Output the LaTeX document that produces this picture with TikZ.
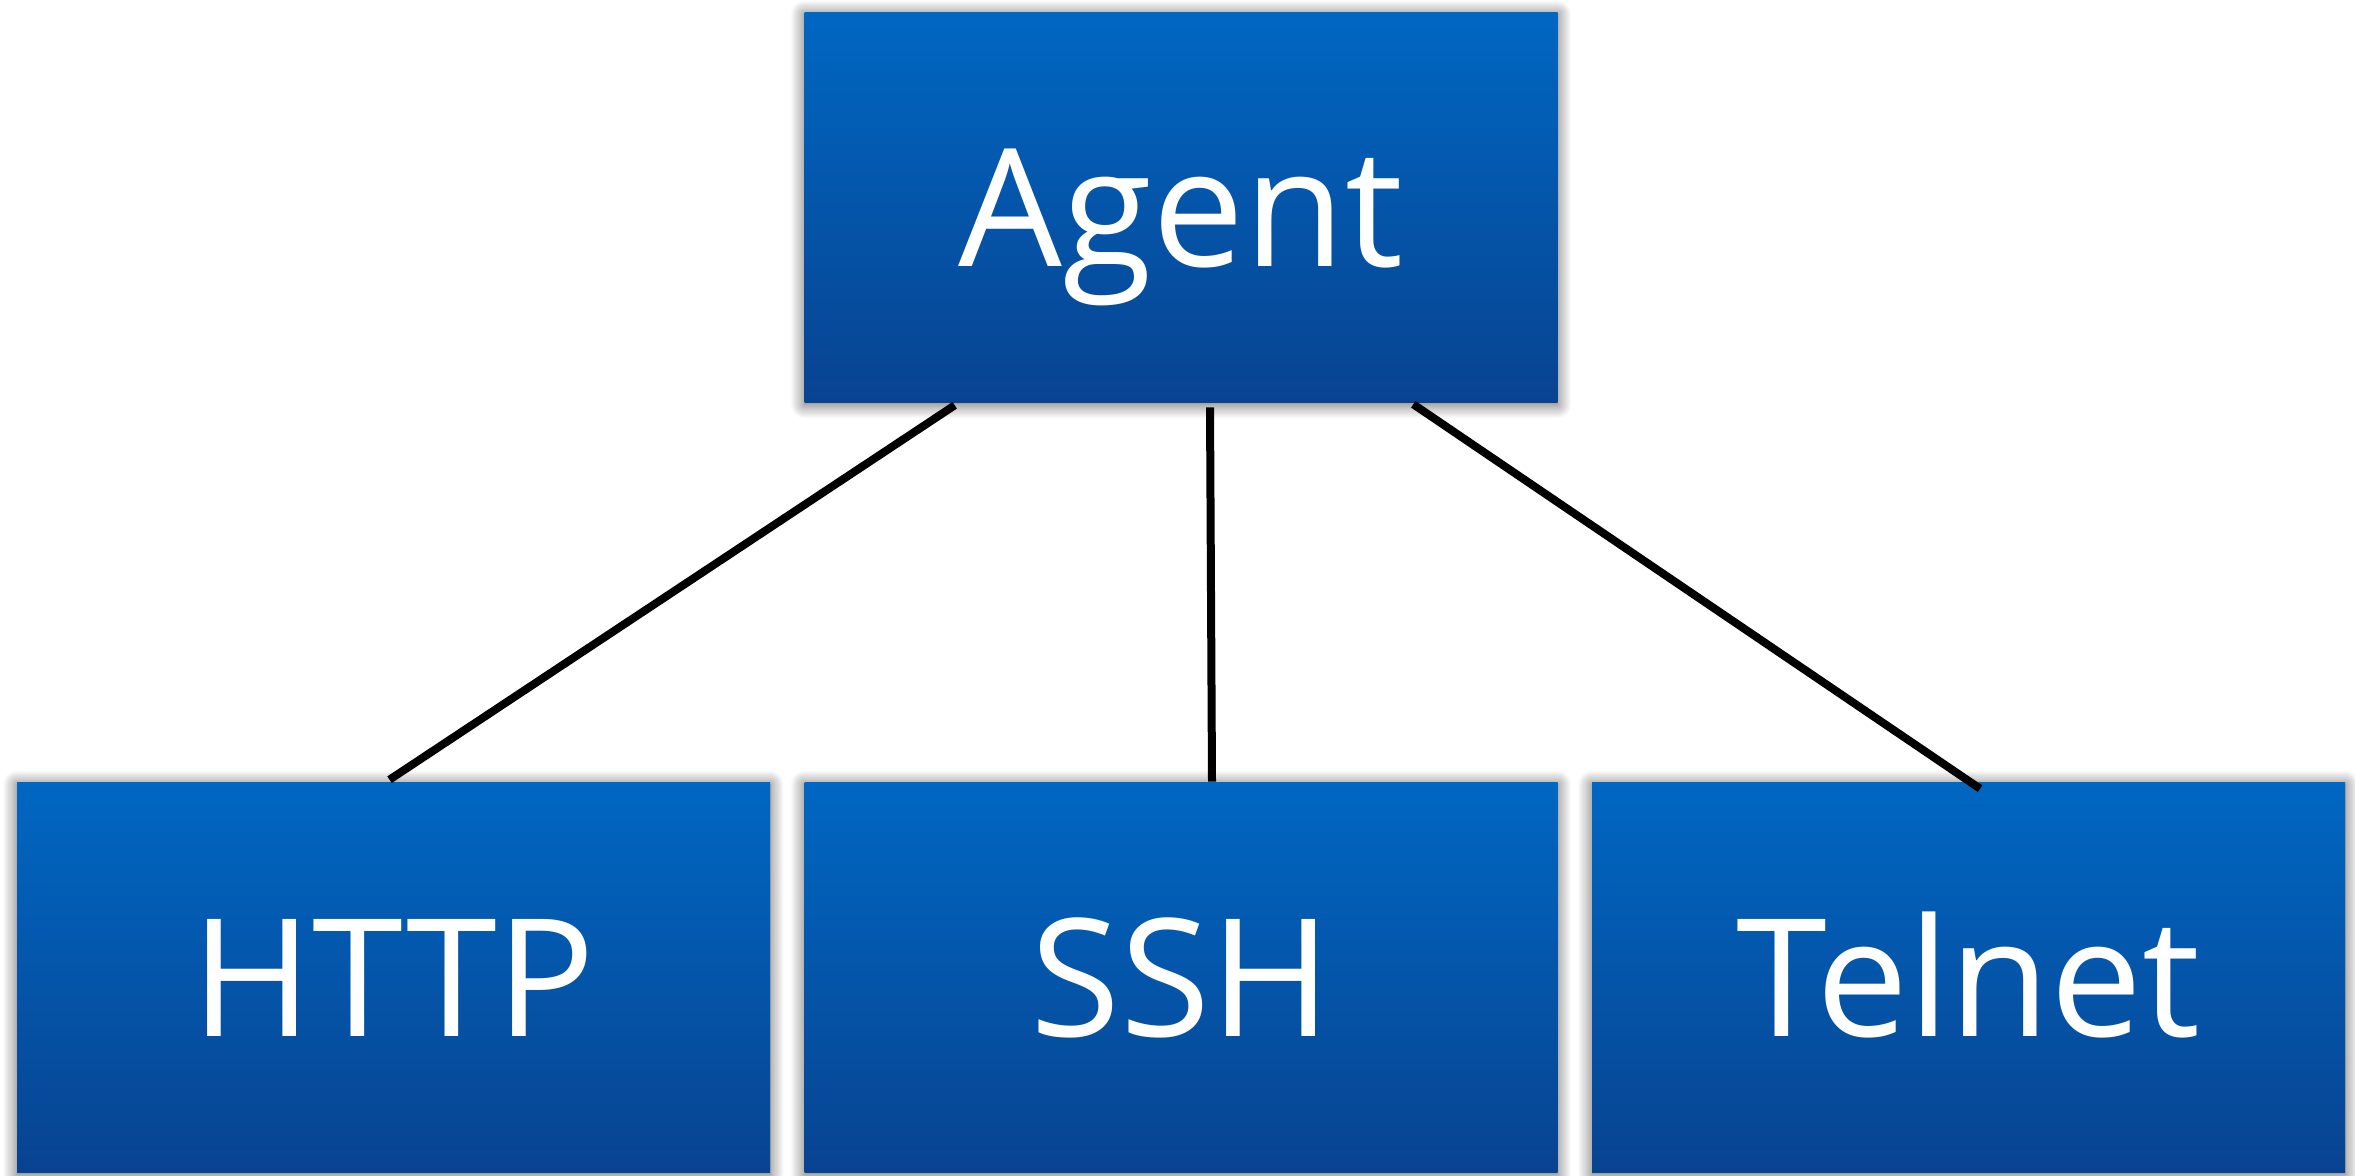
\documentclass[tikz,border=0pt]{standalone}
\usepackage{fontspec}
\newfontfamily\boxfont{Open Sans}
\usetikzlibrary{shadows.blur}
\definecolor{boxtop}{RGB}{0,103,194}
\definecolor{boxbot}{RGB}{8,67,145}
\begin{document}
\begin{tikzpicture}[x=0.25pt,y=0.25pt,yscale=-1,
	protobox/.style={rectangle, top color=boxtop, bottom color=boxbot, draw=none,
		minimum width=188.25pt, minimum height=97.5pt, inner sep=0pt,
		text=white, font=\boxfont\fontsize{41pt}{48pt}\selectfont,
		text height=29.5pt, text depth=0pt,
		blur shadow={shadow xshift=0pt, shadow yshift=-0.5pt, shadow blur radius=3.5pt, shadow blur steps=14, shadow opacity=65}},
	link/.style={line width=2pt, black}]
	\useasboundingbox (0,0) rectangle (2355,1176);
	
	%Shape: Rectangle [Agent]
	\node [protobox] (agent) at (1181,207.5) {Agent};
	%Shape: Rectangle [HTTP]
	\node [protobox] (http) at (393.5,977.5) {HTTP};
	%Shape: Rectangle [SSH]
	\node [protobox] (ssh) at (1181,977.5) {SSH};
	%Shape: Rectangle [Telnet]
	\node [protobox] (telnet) at (1968.5,977.5) {Telnet};
	
	%Straight Lines
	\draw [link] ([xshift=37.75pt,yshift=0.5pt]agent.south west) -- ([xshift=-1pt,yshift=-0.5pt]http.north);
	%Straight Lines
	\draw [link] ([xshift=7.25pt,yshift=1pt]agent.south) -- ([xshift=7.75pt]ssh.north);
	%Straight Lines
	\draw [link] ([xshift=-36.25pt,yshift=0.25pt]agent.south east) -- ([xshift=2.9pt,yshift=1.75pt]telnet.north);
	
\end{tikzpicture}
\end{document}
